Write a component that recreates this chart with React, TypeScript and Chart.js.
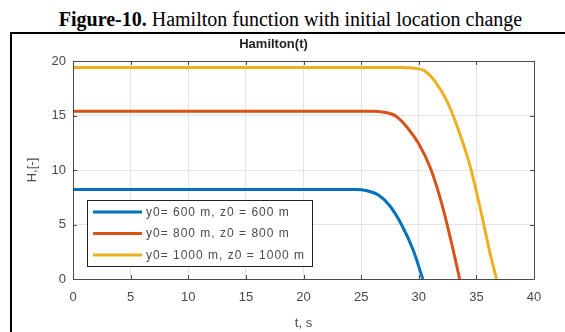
import React, { useEffect, useRef } from "react";
import { Chart, registerables } from "chart.js";

Chart.register(...registerables);

const seriesLabels = ["y0= 600 m, z0 = 600 m", "y0= 800 m, z0 = 800 m", "y0= 1000 m, z0 = 1000 m"];
const seriesColors = ["#0072BD", "#D95319", "#EDB120"];

const tBlue = [0, 24.5, 25.5, 26.5, 27.5, 28.5, 29.5, 30.35];
const hBlue = [8.2, 8.2, 8.1, 7.7, 6.7, 5.0, 2.7, 0];

const tRed = [0, 26, 27, 28, 29, 30, 31, 32, 33, 33.55];
const hRed = [15.4, 15.4, 15.3, 14.95, 13.9, 12.4, 10.2, 6.9, 2.6, 0];

const tYellow = [0, 28.5, 29.5, 30.5, 31.5, 32.5, 33.5, 34.5, 35.5, 36.2, 36.75];
const hYellow = [19.4, 19.4, 19.35, 19.1, 18.0, 16.2, 13.5, 10.2, 5.7, 2.3, 0];

const xTicks = [0, 5, 10, 15, 20, 25, 30, 35, 40];
const yTicks = [0, 5, 10, 15, 20];

const chartTitle = "Hamilton(t)";
const xTitle = "t, s";
const yTitle = "H,[-]";

const textColor = "#4a4a4a";
const axisColor = "#4a4a4a";
const fontFamily = '"Liberation Sans", Arial, sans-serif';

function pts(t: number[], h: number[]) {
  return t.map((x, i) => ({ x, y: h[i] }));
}

const boxPlugin = {
  id: "boxPlugin",
  afterDatasetsDraw(chart: any) {
    const { ctx, chartArea: a, scales } = chart;
    ctx.save();
    ctx.strokeStyle = axisColor;
    ctx.lineWidth = 1;
    ctx.beginPath();
    ctx.rect(Math.round(a.left) + 0.5, Math.round(a.top) + 0.5, Math.round(a.right - a.left), Math.round(a.bottom - a.top));
    ctx.stroke();
    const L = 4;
    ctx.beginPath();
    xTicks.forEach((v) => {
      const x = Math.round(scales.x.getPixelForValue(v)) + 0.5;
      ctx.moveTo(x, a.bottom);
      ctx.lineTo(x, a.bottom - L);
      ctx.moveTo(x, a.top);
      ctx.lineTo(x, a.top + L);
    });
    yTicks.forEach((v) => {
      const y = Math.round(scales.y.getPixelForValue(v)) + 0.5;
      ctx.moveTo(a.left, y);
      ctx.lineTo(a.left + L, y);
      ctx.moveTo(a.right, y);
      ctx.lineTo(a.right - L, y);
    });
    ctx.stroke();
    ctx.restore();
  },
  afterDraw(chart: any) {
    const { ctx, chartArea: a } = chart;
    const lx = a.left + 14;
    const ly = a.top + 139;
    const w = 225;
    const h = 66;
    ctx.save();
    ctx.fillStyle = "#ffffff";
    ctx.fillRect(lx, ly, w, h);
    ctx.strokeStyle = "#222";
    ctx.lineWidth = 1;
    ctx.strokeRect(lx + 0.5, ly + 0.5, w, h);
    ctx.font = `12px ${fontFamily}`;
    try { (ctx as any).letterSpacing = "1px"; } catch (e) {}
    ctx.textBaseline = "middle";
    ctx.textAlign = "left";
    chart.data.datasets.forEach((ds: any, i: number) => {
      const y = ly + 12 + i * 21.5;
      ctx.strokeStyle = ds.borderColor;
      ctx.lineWidth = 3;
      ctx.beginPath();
      ctx.moveTo(lx + 6, y);
      ctx.lineTo(lx + 55, y);
      ctx.stroke();
      ctx.fillStyle = textColor;
      ctx.fillText(ds.label, lx + 59, y + 0.5);
    });
    ctx.restore();
  },
};

export default function App() {
  const ref = useRef<HTMLCanvasElement>(null);
  useEffect(() => {
    if (!ref.current) return;
    const chart = new Chart(ref.current, {
      type: "line",
      data: {
        datasets: [
          { label: seriesLabels[0], data: pts(tBlue, hBlue), borderColor: seriesColors[0], backgroundColor: seriesColors[0] },
          { label: seriesLabels[1], data: pts(tRed, hRed), borderColor: seriesColors[1], backgroundColor: seriesColors[1] },
          { label: seriesLabels[2], data: pts(tYellow, hYellow), borderColor: seriesColors[2], backgroundColor: seriesColors[2] },
        ],
      },
      options: {
        responsive: false,
        animation: false,
        layout: { padding: { left: 0, right: 31, top: 0, bottom: 0 } },
        elements: {
          point: { radius: 0 },
          line: { borderWidth: 3, cubicInterpolationMode: "monotone" },
        },
        plugins: {
          legend: { display: false },
          tooltip: { enabled: false },
          title: {
            display: true,
            text: chartTitle,
            color: "#222",
            font: { family: fontFamily, size: 13, weight: "bold" },
            padding: { top: 2.2, bottom: 9.2 },
          },
        },
        scales: {
          x: {
            type: "linear",
            min: 0,
            max: 40,
            afterBuildTicks: (s: any) => { s.ticks = xTicks.map((v) => ({ value: v })); },
            afterFit: (s: any) => { s.height = 53; },
            ticks: { color: textColor, font: { family: fontFamily, size: 13 }, padding: 11, maxRotation: 0 },
            grid: { color: "#e3e3e3", drawTicks: false },
            border: { display: false },
            title: { display: true, text: xTitle, color: textColor, font: { family: fontFamily, size: 13 }, padding: { top: 0, bottom: 1.2 } },
          },
          y: {
            type: "linear",
            min: 0,
            max: 20,
            afterBuildTicks: (s: any) => { s.ticks = yTicks.map((v) => ({ value: v })); },
            afterFit: (s: any) => { s.width = 60; },
            ticks: { color: textColor, font: { family: fontFamily, size: 13 }, padding: 7 },
            grid: { color: "#e3e3e3", drawTicks: false },
            border: { display: false },
            title: { display: true, text: yTitle, color: textColor, font: { family: fontFamily, size: 13 }, padding: { top: 12, bottom: 0 } },
          },
        },
      },
      plugins: [boxPlugin],
    } as any);
    return () => chart.destroy();
  }, []);

  return (
    <div style={{ position: "fixed", left: 0, top: 0, width: 565, height: 332, background: "#fff", overflow: "hidden" }}>
      <div
        style={{
          position: "absolute",
          top: 8,
          left: 0,
          width: 581,
          textAlign: "center",
          fontFamily: '"Liberation Serif", "Times New Roman", serif',
          fontSize: 20,
          lineHeight: "23px",
          color: "#000",
          whiteSpace: "nowrap",
        }}
      >
        <b>Figure-10.</b> Hamilton function with initial location change
      </div>
      <div style={{ position: "absolute", left: 10, top: 32, width: 580, height: 330, border: "2px solid #000" }} />
      <canvas ref={ref} width={552} height={298} style={{ position: "absolute", left: 13, top: 34, width: 552, height: 298 }} />
    </div>
  );
}
